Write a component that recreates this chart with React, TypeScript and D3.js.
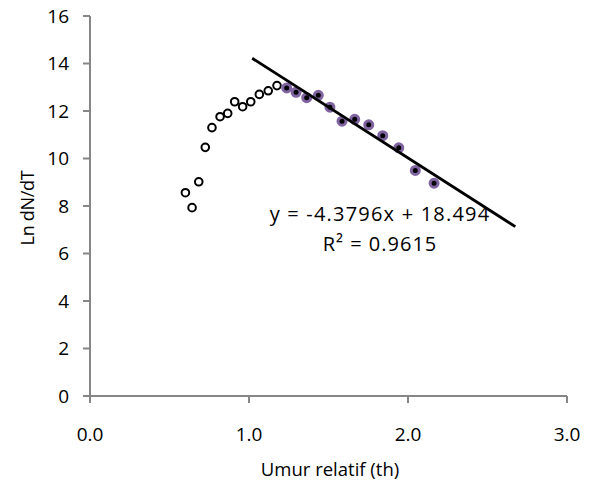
import React from "react";
import * as d3 from "d3";

// rising part (open markers)
const RISE_X = [0.6, 0.642, 0.684, 0.725, 0.767, 0.818, 0.866, 0.91, 0.96, 1.011, 1.065, 1.121, 1.176];
const RISE_Y = [8.56, 7.93, 9.02, 10.47, 11.3, 11.76, 11.9, 12.39, 12.18, 12.39, 12.7, 12.85, 13.07];

// falling part (used for the regression)
const FALL_X = [1.237, 1.296, 1.363, 1.436, 1.509, 1.585, 1.665, 1.753, 1.841, 1.942, 2.046, 2.164];
const FALL_Y = [12.97, 12.79, 12.56, 12.66, 12.16, 11.57, 11.65, 11.42, 10.96, 10.45, 9.5, 8.96];

// trendline as drawn
const TREND_X = [1.02, 2.675];
const TREND_Y = [14.22, 7.13];

const X_TICKS = [0, 1, 2, 3];
const Y_TICKS = [0, 2, 4, 6, 8, 10, 12, 14, 16];

const EQUATION = "y = -4.3796x + 18.494";
const R2 = "R² = 0.9615";

const W = 598;
const H = 484;
const FONT = "'Open Sans', sans-serif";
const AXIS = "#868686";
const PURPLE = "#8064A2";

export default function App() {
  const x = d3.scaleLinear().domain([0, 3]).range([90, 567]);
  const y = d3.scaleLinear().domain([0, 16]).range([396, 16]);

  const trend = d3.line<number>()
    .x((d) => x(d))
    .y((_, i) => y(TREND_Y[i]));

  return (
    <svg
      width={W}
      height={H}
      style={{ position: "absolute", left: 0, top: 0, background: "#fff" }}
      fontFamily={FONT}
    >
      {/* axes */}
      <g stroke={AXIS} strokeWidth={2} fill="none">
        <line x1={x(0)} x2={x(3)} y1={y(0)} y2={y(0)} />
        <line x1={x(0)} x2={x(0)} y1={y(0)} y2={y(16)} />
        {X_TICKS.map((t) => (
          <line key={"xt" + t} x1={x(t)} x2={x(t)} y1={y(0)} y2={y(0) + 7} />
        ))}
        {Y_TICKS.map((t) => (
          <line key={"yt" + t} x1={x(0) - 7} x2={x(0)} y1={y(t)} y2={y(t)} />
        ))}
      </g>
      <g fill="#000" fontSize={19}>
        {X_TICKS.map((t) => (
          <text key={"xl" + t} x={x(t)} y={441} textAnchor="middle">
            {d3.format(".1f")(t)}
          </text>
        ))}
        {Y_TICKS.map((t) => (
          <text key={"yl" + t} x={69} y={y(t)} dy="0.36em" textAnchor="end">
            {t}
          </text>
        ))}
      </g>
      <text x={330} y={476} textAnchor="middle" fontSize={18.5}>
        Umur relatif (th)
      </text>
      <text
        transform={`translate(34,${208}) rotate(-90)`}
        textAnchor="middle"
        fontSize={18}
        letterSpacing={-0.3}
      >
        Ln dN/dT
      </text>

      {/* open markers */}
      {RISE_X.map((d, i) => (
        <circle
          key={"r" + i}
          cx={x(d)}
          cy={y(RISE_Y[i])}
          r={3.8}
          fill="#fff"
          stroke="#000"
          strokeWidth={2}
        />
      ))}
      {FALL_X.map((d, i) => (
        <circle
          key={"f" + i}
          cx={x(d)}
          cy={y(FALL_Y[i])}
          r={4}
          fill="#000"
          stroke={PURPLE}
          strokeWidth={3}
        />
      ))}

      <path d={trend(TREND_X) ?? ""} stroke="#000" strokeWidth={2.8} fill="none" />

      <text x={380} y={221} textAnchor="middle" fontSize={20} letterSpacing={1.2}>
        {EQUATION}
      </text>
      <text x={380} y={251} textAnchor="middle" fontSize={20} letterSpacing={1}>
        {R2}
      </text>
    </svg>
  );
}
